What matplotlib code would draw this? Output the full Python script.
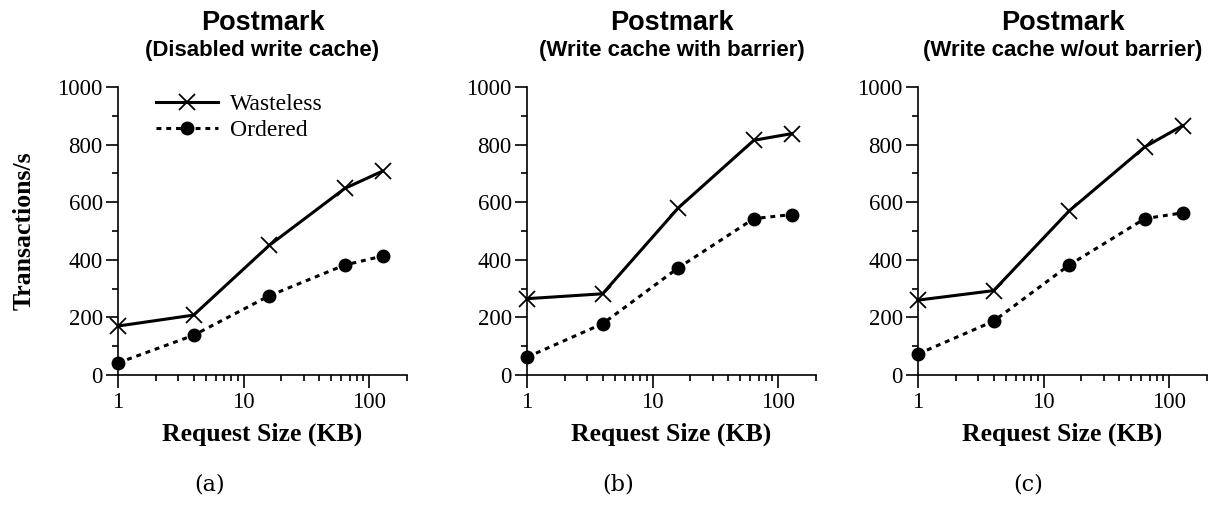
"""Postmark: Wasteless vs Ordered, ba chế độ write cache."""
import matplotlib

matplotlib.use("Agg")
import matplotlib.pyplot as plt
from matplotlib.ticker import FixedLocator, LogLocator, NullFormatter

req_size = [1, 4, 16, 64, 128]

titles = [
    "(Disabled write cache)",
    "(Write cache with barrier)",
    "(Write cache w/out barrier)",
]
captions = ["(a)", "(b)", "(c)"]

wasteless_a = [170, 208, 450, 648, 708]
ordered_a = [42, 138, 275, 382, 413]
wasteless_b = [265, 282, 580, 815, 838]
ordered_b = [62, 178, 372, 543, 557]
wasteless_c = [260, 293, 570, 792, 866]
ordered_c = [73, 187, 382, 543, 563]

wasteless = [wasteless_a, wasteless_b, wasteless_c]
ordered = [ordered_a, ordered_b, ordered_c]

SERIF = "Liberation Serif"
SANS = "Liberation Sans"

W, H = 1208, 513
fig = plt.figure(figsize=(W / 100, H / 100), dpi=100)

lefts = [118, 527, 918]
caption_x = [210, 618, 1028]
ax_w, top, bottom = 289, 87, 375

for i in range(3):
    ax = fig.add_axes([lefts[i] / W, (H - bottom) / H, ax_w / W, (bottom - top) / H])
    ax.plot(req_size, wasteless[i], color="black", lw=2.2, marker="x",
            ms=11, mew=1.3, label="Wasteless", clip_on=False)
    ax.plot(req_size, ordered[i], color="black", lw=2.2, ls=(0, (1.6, 1.6)),
            marker="o", ms=9, label="Ordered", clip_on=False)

    ax.set_xscale("log")
    ax.set_xlim(1, 200)
    ax.set_ylim(0, 1000)
    ax.set_xticks([1, 10, 100])
    ax.set_xticklabels(["1", "10", "100"])
    ax.xaxis.set_minor_locator(LogLocator(base=10, subs=range(2, 10)))
    ax.xaxis.set_minor_formatter(NullFormatter())
    ax.set_yticks(range(0, 1001, 200))
    ax.yaxis.set_minor_locator(FixedLocator(range(100, 1000, 200)))

    for s in ("top", "right"):
        ax.spines[s].set_visible(False)
    for s in ("left", "bottom"):
        ax.spines[s].set_linewidth(1.2)
    ax.tick_params(which="major", length=9, width=1.2, direction="out")
    ax.tick_params(which="minor", length=4, width=1.2, direction="out")
    for lab in ax.get_xticklabels() + ax.get_yticklabels():
        lab.set_fontfamily(SERIF)
        lab.set_fontsize(16.5)
    ax.tick_params(axis="x", pad=3)
    ax.tick_params(axis="y", pad=2)

    ax.set_xlabel("Request Size (KB)", fontfamily=SERIF, fontsize=18.5,
                  fontweight="bold", labelpad=7)
    if i == 0:
        ax.set_ylabel("Transactions/s", fontfamily=SERIF, fontsize=18.5,
                      fontweight="bold", labelpad=16)
        ax.legend(loc="upper left", bbox_to_anchor=(0.1, 1.01), frameon=False,
                  prop={"family": SERIF, "size": 17}, handlelength=2.6,
                  handletextpad=0.5, labelspacing=0.2, borderaxespad=0)

    cx = (lefts[i] + ax_w / 2) / W
    fig.text(cx, 1 - 23 / H, "Postmark", ha="center", va="center",
             fontfamily=SANS, fontsize=19.5, fontweight="bold")
    fig.text(cx, 1 - 51 / H, titles[i], ha="center", va="center",
             fontfamily=SANS, fontsize=16, fontweight="bold")
    fig.text(caption_x[i] / W, 1 - 485 / H, captions[i], ha="center",
             va="center", fontfamily="DejaVu Serif", fontsize=16)

fig.savefig("out.png", dpi=100)
